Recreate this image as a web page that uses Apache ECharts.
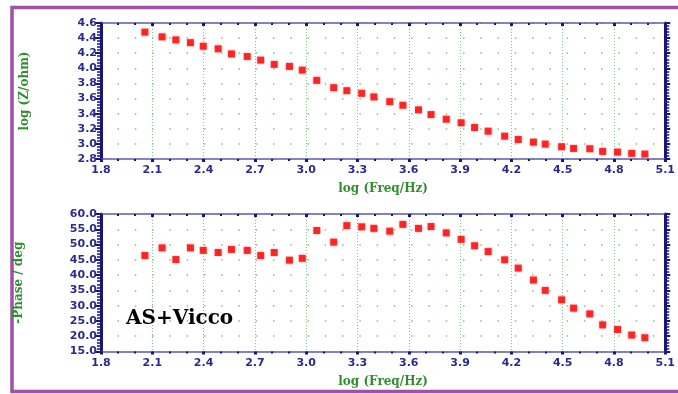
<!DOCTYPE html>
<html>
<head>
<meta charset="utf-8">
<script src="https://cdn.jsdelivr.net/npm/echarts@6/dist/echarts.min.js"></script>
<style>
  html, body { margin: 0; padding: 0; background: #ffffff; }
  #chart { width: 678px; height: 394px; }
</style>
</head>
<body>
<div id="chart"></div>
<script>
// log frequency (shared by both panels)
const logFreq = [2.057, 2.157, 2.238, 2.323, 2.398, 2.485, 2.563, 2.655, 2.734, 2.813, 2.902, 2.977,
  3.062, 3.161, 3.238, 3.325, 3.396, 3.489, 3.566, 3.657, 3.730, 3.819, 3.906, 3.985,
  4.064, 4.161, 4.240, 4.329, 4.398, 4.494, 4.564, 4.659, 4.734, 4.821, 4.904, 4.981]

// log |Z|
const logZ = [4.48, 4.416, 4.376, 4.34, 4.293, 4.258, 4.19, 4.157, 4.109, 4.052, 4.026, 3.977,
  3.841, 3.744, 3.704, 3.67, 3.621, 3.559, 3.512, 3.45, 3.388, 3.327, 3.279, 3.217,
  3.169, 3.103, 3.058, 3.024, 2.998, 2.962, 2.94, 2.936, 2.90, 2.892, 2.874, 2.866]

// -phase (deg)
const phase = [46.4, 48.9, 45.1, 48.9, 48.1, 47.4, 48.4, 48.1, 46.4, 47.4, 44.9, 45.5,
  54.6, 50.8, 56.2, 55.8, 55.3, 54.4, 56.6, 55.3, 55.9, 53.8, 51.7, 49.6,
  47.7, 45.0, 42.3, 38.4, 35.0, 31.9, 29.2, 27.3, 23.7, 22.2, 20.4, 19.5]

const sampleLabel = 'AS+Vicco'

const navy = '#16167e'
const thinBlue = '#5a5ab4'
const gridGreen = '#86c286'
const labelFont = { color: '#2a2a8c', fontFamily: 'DejaVu Sans', fontWeight: 'bold', fontSize: 11 }
const nameFont = { color: '#2f8f2f', fontFamily: 'DejaVu Serif', fontWeight: 'bold', fontSize: 12 }

const plotLeft = 101
const plotRight = 671
// spacing of 0.1 in x, used for the dot grid
const dotStep = (plotRight - plotLeft) / 33

const chart = echarts.init(document.getElementById('chart'))

function bottomX(gridIndex) {
  return {
    type: 'value', gridIndex, min: 1.8, max: 5.1, interval: 0.3, position: 'bottom',
    name: 'log (Freq/Hz)', nameLocation: 'middle', nameGap: 24, nameTextStyle: nameFont,
    axisLine: { show: true, onZero: false, lineStyle: { color: thinBlue, width: 1.5 } },
    axisTick: { show: true, length: 3, lineStyle: { color: navy, width: 3 } },
    minorTick: { show: true, splitNumber: 3, length: 2, lineStyle: { color: navy, width: 2 } },
    axisLabel: { ...labelFont, margin: 6, formatter: v => v.toFixed(1) },
    splitLine: { show: true, lineStyle: { color: gridGreen, type: [1, 2], width: 1 } }
  }
}

function topX(gridIndex) {
  return {
    type: 'value', gridIndex, min: 1.8, max: 5.1, interval: 0.3, position: 'top',
    axisLine: { show: true, onZero: false, lineStyle: { color: thinBlue, width: 1.5 } },
    axisTick: { show: true, inside: true, length: 3, lineStyle: { color: navy, width: 3 } },
    minorTick: { show: true, splitNumber: 3, length: 2, lineStyle: { color: navy, width: 2 } },
    axisLabel: { show: false },
    splitLine: { show: false }
  }
}

function leftY(gridIndex, min, max, interval, digits, name, gap) {
  return {
    type: 'value', gridIndex, min, max, interval, position: 'left',
    name, nameLocation: 'middle', nameGap: gap, nameTextStyle: nameFont,
    axisLine: { show: true, onZero: false, lineStyle: { color: navy, width: 3 } },
    axisTick: { show: true, length: 6, lineStyle: { color: navy, width: 2 } },
    minorTick: { show: true, splitNumber: 5, length: 4, lineStyle: { color: navy, width: 1.5 } },
    axisLabel: { ...labelFont, margin: 4, formatter: v => v.toFixed(digits) },
    splitLine: { show: true, lineStyle: { color: gridGreen, width: 1.5, type: [1.5, dotStep - 1.5], dashOffset: 0.75 } }
  }
}

function rightY(gridIndex, min, max, interval) {
  return {
    type: 'value', gridIndex, min, max, interval, position: 'right',
    axisLine: { show: true, onZero: false, lineStyle: { color: navy, width: 3 } },
    axisTick: { show: true, length: 5, lineStyle: { color: navy, width: 2 } },
    minorTick: { show: true, splitNumber: 5, length: 4, lineStyle: { color: navy, width: 1.5 } },
    axisLabel: { show: false },
    splitLine: { show: false }
  }
}

const marker = {
  color: '#ff0000',
  shadowBlur: 2,
  shadowColor: 'rgba(255, 60, 60, 0.5)'
}

const option = {
  backgroundColor: '#ffffff',
  animation: false,
  title: {
    text: sampleLabel,
    left: 121,
    top: 304,
    textStyle: { color: '#000000', fontFamily: 'DejaVu Serif', fontWeight: 'bold', fontSize: 20 }
  },
  graphic: [
    {
      type: 'rect',
      shape: { x: 12, y: 7.5, width: 700, height: 384 },
      style: { fill: null, stroke: '#a24fa6', lineWidth: 3.5 },
      silent: true
    }
  ],
  grid: [
    { left: plotLeft, right: 678 - plotRight, top: 23, height: 136 },
    { left: plotLeft, right: 678 - plotRight, top: 214, height: 137.5 }
  ],
  xAxis: [bottomX(0), topX(0), bottomX(1), topX(1)],
  yAxis: [
    leftY(0, 2.8, 4.6, 0.2, 1, 'log (Z/ohm)', 70),
    rightY(0, 2.8, 4.6, 0.2),
    leftY(1, 15, 60, 5, 1, '-Phase / deg', 76),
    rightY(1, 15, 60, 5)
  ],
  series: [
    {
      type: 'scatter', xAxisIndex: 0, yAxisIndex: 0, symbol: 'rect', symbolSize: 7,
      data: logFreq.map((x, i) => [x, logZ[i]]),
      itemStyle: marker
    },
    {
      type: 'scatter', xAxisIndex: 2, yAxisIndex: 2, symbol: 'rect', symbolSize: 7,
      data: logFreq.map((x, i) => [x, phase[i]]),
      itemStyle: marker
    }
  ]
}

chart.setOption(option)
</script>
</body>
</html>
